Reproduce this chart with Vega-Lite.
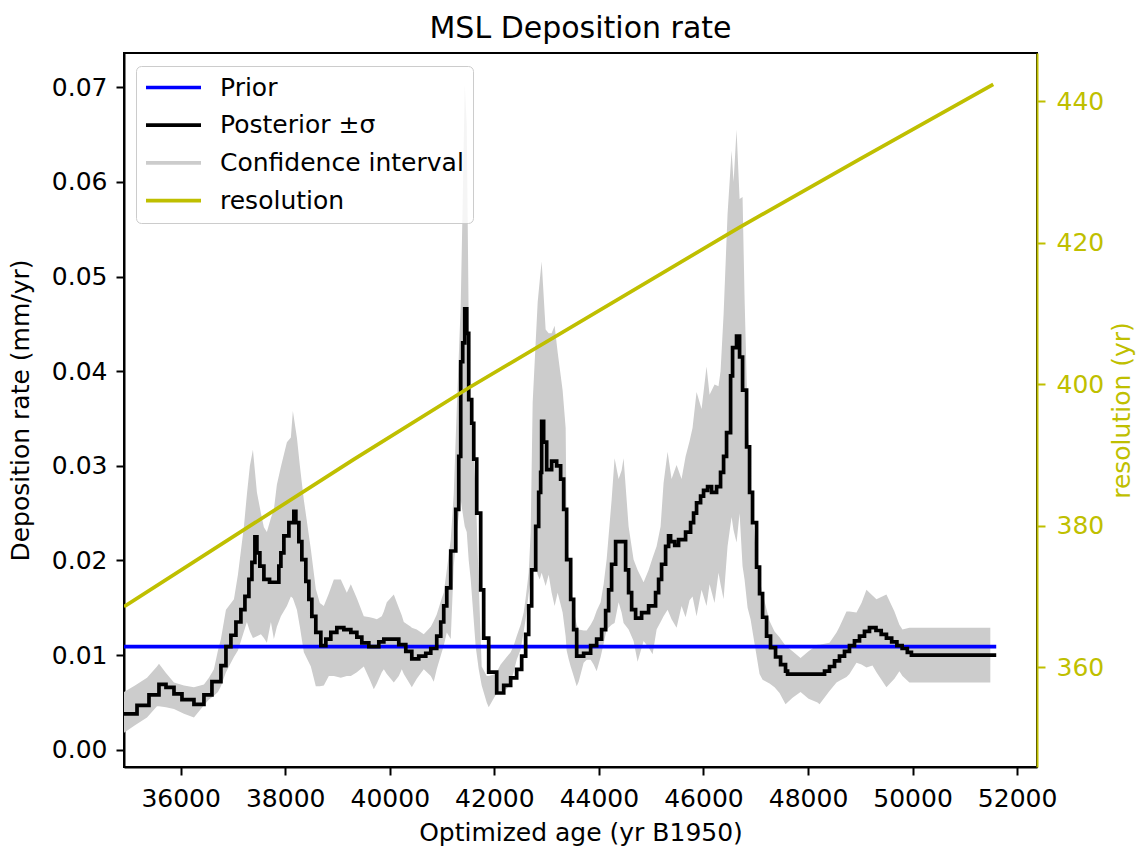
{
  "$schema": "https://vega.github.io/schema/vega-lite/v6.json",
  "width": 913,
  "height": 714,
  "autosize": "none",
  "padding": {"left": 124, "top": 53, "right": 105, "bottom": 81},
  "background": "white",
  "title": {"text": "MSL Deposition rate", "fontSize": 30, "font": "DejaVu Sans", "fontWeight": "normal", "color": "black", "anchor": "middle", "offset": 9},
  "config": {
    "view": {"stroke": "black", "strokeWidth": 2},
    "axis": {"labelFont": "DejaVu Sans", "titleFont": "DejaVu Sans", "labelFontSize": 25, "titleFontSize": 25, "titleFontWeight": "normal", "tickSize": 8, "tickWidth": 2, "domainWidth": 2, "grid": false, "labelColor": "black", "tickColor": "black", "domainColor": "black", "titleColor": "black", "labelPadding": 9}
  },
  "datasets": {
    "band": [
      {"a":34916,"lo":0.0018,"hi":0.0061},{"a":35126,"lo":0.0026,"hi":0.0068},{"a":35356,"lo":0.0034,"hi":0.0076},{"a":35547,"lo":0.0046,"hi":0.0088},{"a":35585,"lo":0.0046,"hi":0.0091},{"a":35719,"lo":0.0045,"hi":0.0081},{"a":35872,"lo":0.0043,"hi":0.0071},{"a":36063,"lo":0.0038,"hi":0.0068},{"a":36254,"lo":0.0034,"hi":0.0066},{"a":36445,"lo":0.0047,"hi":0.0069},{"a":36541,"lo":0.0053,"hi":0.0076},{"a":36636,"lo":0.0057,"hi":0.0085},{"a":36713,"lo":0.0061,"hi":0.0105},{"a":36770,"lo":0.0067,"hi":0.0117},{"a":36866,"lo":0.0082,"hi":0.0148},{"a":37019,"lo":0.0098,"hi":0.0159},{"a":37095,"lo":0.0105,"hi":0.0185},{"a":37210,"lo":0.0125,"hi":0.0236},{"a":37267,"lo":0.0135,"hi":0.027},{"a":37324,"lo":0.0125,"hi":0.03},{"a":37382,"lo":0.0118,"hi":0.0317},{"a":37458,"lo":0.012,"hi":0.0272},{"a":37535,"lo":0.0122,"hi":0.025},{"a":37592,"lo":0.0118,"hi":0.0235},{"a":37649,"lo":0.0113,"hi":0.023},{"a":37726,"lo":0.0135,"hi":0.0245},{"a":37783,"lo":0.0117,"hi":0.0254},{"a":37840,"lo":0.013,"hi":0.028},{"a":37917,"lo":0.0141,"hi":0.0299},{"a":38032,"lo":0.0152,"hi":0.0325},{"a":38108,"lo":0.0162,"hi":0.033},{"a":38146,"lo":0.016,"hi":0.0358},{"a":38223,"lo":0.0148,"hi":0.033},{"a":38280,"lo":0.013,"hi":0.03},{"a":38356,"lo":0.0103,"hi":0.0264},{"a":38490,"lo":0.0088,"hi":0.0212},{"a":38585,"lo":0.0067,"hi":0.017},{"a":38662,"lo":0.0067,"hi":0.0155},{"a":38738,"lo":0.0068,"hi":0.0152},{"a":38834,"lo":0.0078,"hi":0.0165},{"a":38930,"lo":0.0078,"hi":0.018},{"a":39063,"lo":0.0076,"hi":0.018},{"a":39178,"lo":0.0078,"hi":0.0166},{"a":39255,"lo":0.0078,"hi":0.0175},{"a":39370,"lo":0.0082,"hi":0.016},{"a":39503,"lo":0.0088,"hi":0.0141},{"a":39618,"lo":0.0074,"hi":0.014},{"a":39694,"lo":0.0064,"hi":0.0139},{"a":39752,"lo":0.007,"hi":0.0138},{"a":39847,"lo":0.0082,"hi":0.0141},{"a":39886,"lo":0.0085,"hi":0.0146},{"a":39943,"lo":0.008,"hi":0.0156},{"a":40077,"lo":0.0071,"hi":0.0164},{"a":40172,"lo":0.0078,"hi":0.015},{"a":40230,"lo":0.0085,"hi":0.0142},{"a":40268,"lo":0.008,"hi":0.0135},{"a":40402,"lo":0.0068,"hi":0.013},{"a":40421,"lo":0.0066,"hi":0.0129},{"a":40516,"lo":0.0075,"hi":0.0127},{"a":40650,"lo":0.0085,"hi":0.0122},{"a":40784,"lo":0.0078,"hi":0.013},{"a":40841,"lo":0.0072,"hi":0.0136},{"a":40898,"lo":0.0085,"hi":0.0143},{"a":40994,"lo":0.0103,"hi":0.016},{"a":41032,"lo":0.011,"hi":0.0166},{"a":41090,"lo":0.0124,"hi":0.019},{"a":41166,"lo":0.0117,"hi":0.0222},{"a":41223,"lo":0.0194,"hi":0.027},{"a":41281,"lo":0.023,"hi":0.036},{"a":41357,"lo":0.0264,"hi":0.047},{"a":41395,"lo":0.025,"hi":0.058},{"a":41434,"lo":0.0236,"hi":0.0703},{"a":41472,"lo":0.023,"hi":0.066},{"a":41510,"lo":0.02,"hi":0.045},{"a":41548,"lo":0.018,"hi":0.036},{"a":41643,"lo":0.0109,"hi":0.0275},{"a":41701,"lo":0.0085,"hi":0.0177},{"a":41758,"lo":0.0068,"hi":0.0088},{"a":41854,"lo":0.005,"hi":0.0078},{"a":41892,"lo":0.0045,"hi":0.0078},{"a":42025,"lo":0.0058,"hi":0.008},{"a":42121,"lo":0.0062,"hi":0.009},{"a":42236,"lo":0.0064,"hi":0.0098},{"a":42312,"lo":0.0072,"hi":0.0103},{"a":42369,"lo":0.0082,"hi":0.011},{"a":42427,"lo":0.0095,"hi":0.012},{"a":42503,"lo":0.0106,"hi":0.0132},{"a":42561,"lo":0.0125,"hi":0.0145},{"a":42599,"lo":0.0138,"hi":0.016},{"a":42657,"lo":0.0165,"hi":0.0187},{"a":42695,"lo":0.018,"hi":0.023},{"a":42733,"lo":0.0188,"hi":0.0367},{"a":42790,"lo":0.0194,"hi":0.043},{"a":42829,"lo":0.0185,"hi":0.0473},{"a":42867,"lo":0.018,"hi":0.0495},{"a":42905,"lo":0.0187,"hi":0.0516},{"a":42981,"lo":0.0173,"hi":0.0444},{"a":43039,"lo":0.0185,"hi":0.044},{"a":43096,"lo":0.0166,"hi":0.044},{"a":43153,"lo":0.0152,"hi":0.0448},{"a":43211,"lo":0.0166,"hi":0.042},{"a":43306,"lo":0.0145,"hi":0.038},{"a":43364,"lo":0.012,"hi":0.034},{"a":43383,"lo":0.0105,"hi":0.023},{"a":43421,"lo":0.0096,"hi":0.02},{"a":43460,"lo":0.0088,"hi":0.0177},{"a":43517,"lo":0.0078,"hi":0.0148},{"a":43575,"lo":0.0067,"hi":0.0132},{"a":43613,"lo":0.0072,"hi":0.0127},{"a":43708,"lo":0.0092,"hi":0.0126},{"a":43766,"lo":0.0095,"hi":0.0126},{"a":43842,"lo":0.0095,"hi":0.0132},{"a":43899,"lo":0.009,"hi":0.0138},{"a":43957,"lo":0.0083,"hi":0.0147},{"a":44033,"lo":0.0098,"hi":0.0156},{"a":44090,"lo":0.0112,"hi":0.0175},{"a":44148,"lo":0.0127,"hi":0.0201},{"a":44243,"lo":0.0132,"hi":0.0264},{"a":44300,"lo":0.0134,"hi":0.0308},{"a":44377,"lo":0.0156,"hi":0.0286},{"a":44434,"lo":0.0145,"hi":0.0295},{"a":44472,"lo":0.0134,"hi":0.0308},{"a":44568,"lo":0.0127,"hi":0.0236},{"a":44663,"lo":0.0115,"hi":0.0201},{"a":44740,"lo":0.0093,"hi":0.019},{"a":44855,"lo":0.0115,"hi":0.0177},{"a":44951,"lo":0.0108,"hi":0.019},{"a":45027,"lo":0.0101,"hi":0.0203},{"a":45104,"lo":0.0127,"hi":0.0215},{"a":45180,"lo":0.0135,"hi":0.0236},{"a":45237,"lo":0.0141,"hi":0.0282},{"a":45314,"lo":0.0148,"hi":0.0315},{"a":45390,"lo":0.0138,"hi":0.0286},{"a":45486,"lo":0.0129,"hi":0.0301},{"a":45581,"lo":0.0152,"hi":0.0286},{"a":45658,"lo":0.014,"hi":0.031},{"a":45734,"lo":0.0158,"hi":0.0326},{"a":45791,"lo":0.0162,"hi":0.034},{"a":45868,"lo":0.0141,"hi":0.0378},{"a":45964,"lo":0.0169,"hi":0.036},{"a":46059,"lo":0.0152,"hi":0.0405},{"a":46117,"lo":0.0175,"hi":0.0375},{"a":46212,"lo":0.0155,"hi":0.0386},{"a":46288,"lo":0.0187,"hi":0.0384},{"a":46327,"lo":0.0175,"hi":0.04},{"a":46385,"lo":0.0159,"hi":0.046},{"a":46461,"lo":0.0215,"hi":0.0566},{"a":46538,"lo":0.0246,"hi":0.0633},{"a":46576,"lo":0.0232,"hi":0.06},{"a":46633,"lo":0.0219,"hi":0.0655},{"a":46691,"lo":0.025,"hi":0.0582},{"a":46748,"lo":0.0194,"hi":0.0584},{"a":46786,"lo":0.018,"hi":0.0478},{"a":46844,"lo":0.015,"hi":0.0353},{"a":46901,"lo":0.0138,"hi":0.028},{"a":46939,"lo":0.0125,"hi":0.025},{"a":46996,"lo":0.0106,"hi":0.0212},{"a":47073,"lo":0.008,"hi":0.018},{"a":47131,"lo":0.0074,"hi":0.0165},{"a":47264,"lo":0.007,"hi":0.0136},{"a":47360,"lo":0.0066,"hi":0.0125},{"a":47455,"lo":0.006,"hi":0.0119},{"a":47570,"lo":0.0048,"hi":0.011},{"a":47704,"lo":0.0055,"hi":0.0104},{"a":47857,"lo":0.0061,"hi":0.0097},{"a":48010,"lo":0.0054,"hi":0.0104},{"a":48182,"lo":0.005,"hi":0.0111},{"a":48220,"lo":0.0048,"hi":0.0111},{"a":48411,"lo":0.0062,"hi":0.0113},{"a":48545,"lo":0.0071,"hi":0.0124},{"a":48602,"lo":0.0073,"hi":0.013},{"a":48736,"lo":0.0077,"hi":0.0146},{"a":48793,"lo":0.008,"hi":0.0146},{"a":48927,"lo":0.0092,"hi":0.0145},{"a":49023,"lo":0.009,"hi":0.0155},{"a":49118,"lo":0.0087,"hi":0.0169},{"a":49233,"lo":0.0089,"hi":0.0163},{"a":49309,"lo":0.0082,"hi":0.0159},{"a":49500,"lo":0.0066,"hi":0.0164},{"a":49653,"lo":0.0075,"hi":0.0146},{"a":49748,"lo":0.0083,"hi":0.0132},{"a":49806,"lo":0.0078,"hi":0.0127},{"a":49939,"lo":0.0071,"hi":0.0129},{"a":51487,"lo":0.0071,"hi":0.0129}
    ],
    "post": [
      {"a":34916,"v":0.0038},{"a":35165,"v":0.0047},{"a":35394,"v":0.0058},{"a":35585,"v":0.0069},{"a":35719,"v":0.0066},{"a":35872,"v":0.0059},{"a":36025,"v":0.0053},{"a":36254,"v":0.0048},{"a":36445,"v":0.0058},{"a":36598,"v":0.0072},{"a":36770,"v":0.0089},{"a":36866,"v":0.0109},{"a":36961,"v":0.0121},{"a":37057,"v":0.0135},{"a":37152,"v":0.0148},{"a":37229,"v":0.0162},{"a":37305,"v":0.018},{"a":37363,"v":0.0198},{"a":37420,"v":0.0225},{"a":37458,"v":0.0208},{"a":37515,"v":0.0194},{"a":37592,"v":0.018},{"a":37700,"v":0.0177},{"a":37878,"v":0.0194},{"a":37917,"v":0.0208},{"a":37974,"v":0.0226},{"a":38070,"v":0.024},{"a":38165,"v":0.0252},{"a":38203,"v":0.024},{"a":38261,"v":0.022},{"a":38318,"v":0.0201},{"a":38394,"v":0.0178},{"a":38452,"v":0.0159},{"a":38509,"v":0.0141},{"a":38585,"v":0.0124},{"a":38681,"v":0.011},{"a":38777,"v":0.0117},{"a":38872,"v":0.0124},{"a":38987,"v":0.0129},{"a":39121,"v":0.0127},{"a":39255,"v":0.0124},{"a":39370,"v":0.0119},{"a":39465,"v":0.0113},{"a":39599,"v":0.0109},{"a":39790,"v":0.0114},{"a":39886,"v":0.0117},{"a":40172,"v":0.0111},{"a":40306,"v":0.0104},{"a":40421,"v":0.0096},{"a":40554,"v":0.0099},{"a":40688,"v":0.0102},{"a":40784,"v":0.0107},{"a":40898,"v":0.012},{"a":40975,"v":0.0135},{"a":41032,"v":0.0152},{"a":41090,"v":0.0171},{"a":41166,"v":0.021},{"a":41262,"v":0.0254},{"a":41319,"v":0.031},{"a":41357,"v":0.041},{"a":41395,"v":0.043},{"a":41434,"v":0.0466},{"a":41472,"v":0.044},{"a":41510,"v":0.037},{"a":41567,"v":0.0345},{"a":41606,"v":0.0307},{"a":41663,"v":0.025},{"a":41739,"v":0.0169},{"a":41796,"v":0.0118},{"a":41892,"v":0.0082},{"a":42045,"v":0.006},{"a":42179,"v":0.0068},{"a":42312,"v":0.0076},{"a":42427,"v":0.0085},{"a":42523,"v":0.0099},{"a":42599,"v":0.0122},{"a":42657,"v":0.0152},{"a":42714,"v":0.019},{"a":42791,"v":0.0236},{"a":42848,"v":0.0272},{"a":42886,"v":0.0293},{"a":42905,"v":0.0347},{"a":42943,"v":0.0325},{"a":43001,"v":0.0296},{"a":43096,"v":0.0305},{"a":43192,"v":0.03},{"a":43268,"v":0.0286},{"a":43326,"v":0.0254},{"a":43383,"v":0.0201},{"a":43460,"v":0.0159},{"a":43517,"v":0.0127},{"a":43575,"v":0.0099},{"a":43708,"v":0.0102},{"a":43842,"v":0.011},{"a":43957,"v":0.0117},{"a":44052,"v":0.0127},{"a":44129,"v":0.0147},{"a":44186,"v":0.0169},{"a":44243,"v":0.0196},{"a":44320,"v":0.022},{"a":44511,"v":0.019},{"a":44568,"v":0.0166},{"a":44626,"v":0.0148},{"a":44702,"v":0.0139},{"a":44817,"v":0.0145},{"a":44951,"v":0.0152},{"a":45084,"v":0.0166},{"a":45142,"v":0.018},{"a":45199,"v":0.0196},{"a":45276,"v":0.0215},{"a":45333,"v":0.0226},{"a":45371,"v":0.022},{"a":45450,"v":0.0216},{"a":45524,"v":0.0222},{"a":45658,"v":0.023},{"a":45754,"v":0.024},{"a":45811,"v":0.025},{"a":45868,"v":0.0261},{"a":45945,"v":0.0268},{"a":46002,"v":0.0274},{"a":46079,"v":0.0278},{"a":46155,"v":0.0272},{"a":46251,"v":0.0278},{"a":46327,"v":0.0293},{"a":46385,"v":0.031},{"a":46442,"v":0.0335},{"a":46519,"v":0.0395},{"a":46557,"v":0.0425},{"a":46633,"v":0.0437},{"a":46691,"v":0.0415},{"a":46748,"v":0.038},{"a":46825,"v":0.032},{"a":46882,"v":0.0272},{"a":46939,"v":0.024},{"a":47016,"v":0.0193},{"a":47073,"v":0.0165},{"a":47131,"v":0.014},{"a":47207,"v":0.012},{"a":47283,"v":0.0108},{"a":47379,"v":0.0098},{"a":47475,"v":0.009},{"a":47570,"v":0.0083},{"a":47609,"v":0.008},{"a":48316,"v":0.0083},{"a":48411,"v":0.0088},{"a":48507,"v":0.0094},{"a":48602,"v":0.0099},{"a":48698,"v":0.0104},{"a":48793,"v":0.011},{"a":48889,"v":0.0115},{"a":48985,"v":0.012},{"a":49080,"v":0.0125},{"a":49176,"v":0.0129},{"a":49300,"v":0.0126},{"a":49400,"v":0.0122},{"a":49500,"v":0.0118},{"a":49600,"v":0.0114},{"a":49700,"v":0.011},{"a":49800,"v":0.0107},{"a":49900,"v":0.0103},{"a":49978,"v":0.01},{"a":51600,"v":0.01}
    ],
    "prior": [{"a":34916,"v":0.0109},{"a":51600,"v":0.0109}],
    "res": [{"a":34916,"r":368.6},{"a":39312,"r":389.4},{"a":41529,"r":399.6},{"a":46689,"r":422.2},{"a":48982,"r":431.8},{"a":51543,"r":442.4}]
  },
  "layer": [
    {
      "layer": [
        {
          "data": {"name": "band"},
          "mark": {"type": "area", "opacity": 1, "clip": true},
          "encoding": {
            "x": {"field": "a", "type": "quantitative", "scale": {"domain": [34916, 52380], "nice": false, "zero": false},
                  "axis": {"values": [36000,38000,40000,42000,44000,46000,48000,50000,52000], "format": "d", "title": "Optimized age (yr B1950)", "labelPadding": 11, "titlePadding": 9}},
            "y": {"field": "hi", "type": "quantitative", "title": "Deposition rate (mm/yr)", "scale": {"domain": [-0.00182, 0.07362], "nice": false, "zero": false},
                  "axis": {"values": [0,0.01,0.02,0.03,0.04,0.05,0.06,0.07], "format": ".2f", "titlePadding": 18}},
            "y2": {"field": "lo"},
            "color": {"datum": "Confidence interval", "type": "nominal",
              "scale": {"domain": ["Prior", "Posterior ±σ", "Confidence interval", "resolution"], "range": ["#0000ff", "#000000", "#cccccc", "#bfbf00"]},
              "legend": {"orient": "none", "legendX": 12, "legendY": 13, "title": null, "direction": "vertical",
                "labelFont": "DejaVu Sans", "labelFontSize": 25, "labelColor": "black", "labelOffset": 34, "labelLimit": 0,
                "fillColor": "rgba(255,255,255,0.8)", "strokeColor": "#cccccc", "cornerRadius": 5, "padding": 9, "rowPadding": 11.7,
                "symbolType": "M-2.75,0H2.75", "symbolSize": 400, "symbolOffset": 16, "symbolStrokeWidth": 3.7, "symbolOpacity": 1
              }}
          }
        },
        {
          "data": {"name": "prior"},
          "mark": {"type": "line", "strokeWidth": 3.7, "clip": true},
          "encoding": {
            "x": {"field": "a", "type": "quantitative"},
            "y": {"field": "v", "type": "quantitative", "title": "Deposition rate (mm/yr)"},
            "color": {"datum": "Prior", "type": "nominal"}
          }
        },
        {
          "data": {"name": "post"},
          "mark": {"type": "line", "interpolate": "step-after", "strokeWidth": 3.7, "clip": true},
          "encoding": {
            "x": {"field": "a", "type": "quantitative"},
            "y": {"field": "v", "type": "quantitative", "title": "Deposition rate (mm/yr)"},
            "color": {"datum": "Posterior ±σ", "type": "nominal"}
          }
        }
      ]
    },
    {
      "data": {"name": "res"},
      "mark": {"type": "line", "strokeWidth": 3.7, "clip": true},
      "encoding": {
        "x": {"field": "a", "type": "quantitative"},
        "y": {"field": "r", "type": "quantitative", "title": "resolution (yr)", "scale": {"domain": [345.93, 446.84], "nice": false, "zero": false},
              "axis": {"orient": "right", "values": [360,380,400,420,440], "format": "d", "domainColor": "#bfbf00", "tickColor": "#bfbf00", "labelColor": "#bfbf00", "titleColor": "#bfbf00", "labelPadding": 11, "titlePadding": 6, "titleAngle": 270, "titleBaseline": "top"}},
        "color": {"datum": "resolution", "type": "nominal"}
      }
    }
  ],
  "resolve": {"scale": {"y": "independent"}, "axis": {"y": "independent"}}
}
